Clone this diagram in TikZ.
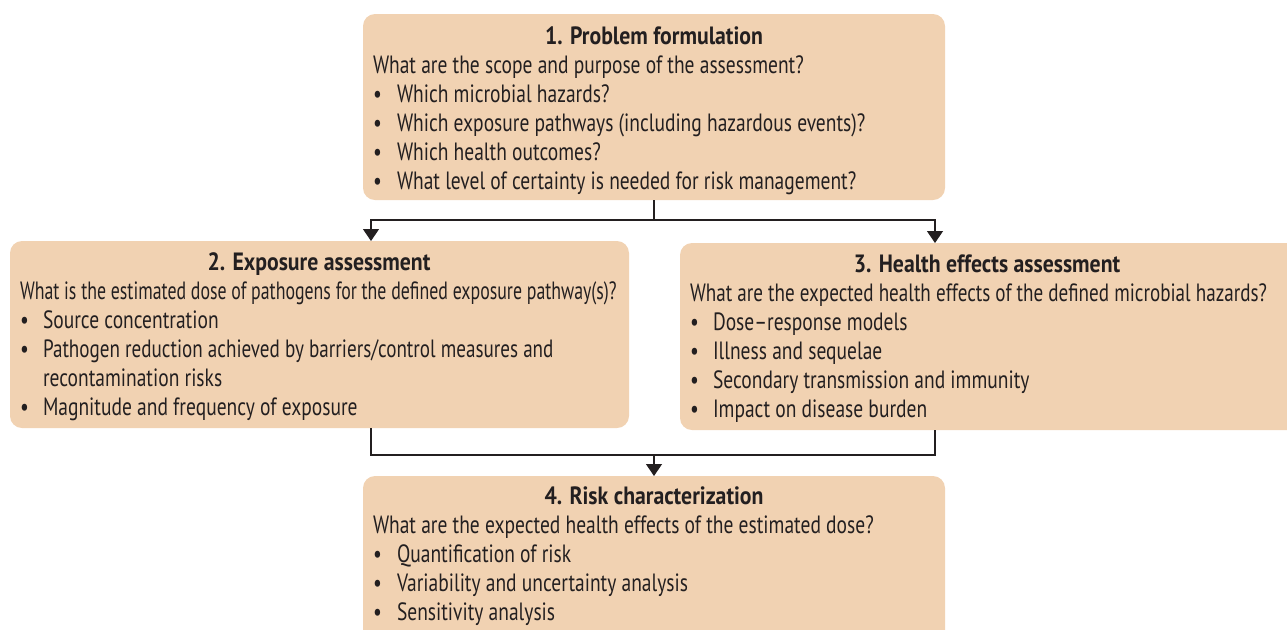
\documentclass[tikz,border=0pt]{standalone}
\usepackage{fontspec}
\setmainfont{PT Sans}[FakeStretch=0.78,BoldFeatures={FakeStretch=0.87}]
\usepackage{xcolor}
\usetikzlibrary{positioning}
\usetikzlibrary{calc,arrows.meta}
\definecolor{boxfill}{RGB}{241,210,178}
\definecolor{inkgray}{RGB}{35,31,32}

\begin{document}
\begin{tikzpicture}[x=0.5pt,y=-0.5pt,every node/.style={outer sep=0pt,inner sep=0pt,text=inkgray,font=\fontsize{12.5}{14.5}\selectfont},
		box/.style={fill=boxfill,draw=none,rounded corners=6pt,anchor=north west},
		title/.style={anchor=base,font=\fontsize{12.5}{14.5}\selectfont\bfseries},
		line/.style={anchor=base west},
		link/.style={draw=inkgray,line width=0.65pt},
		flow/.style={link,-{Triangle[width=8pt,length=6pt]}}
		]
		\useasboundingbox (0,0) rectangle (1287,629);
		
		% the four boxes
		\node[box,minimum width=291pt,minimum height=93pt] (prob) at (363,14) {};
		\node[box,minimum width=309.5pt,minimum height=93.5pt] (expo) at (10,241) {};
		\node[box,minimum width=310pt,minimum height=93.5pt] (heal) at (680,243) {};
		\node[box,minimum width=291pt,minimum height=92pt] (risk) at (363,476) {};
		
		% 1. problem formulation
		\path (654,44) node[title] (probt) {1. Problem formulation};
		\path (373,73) node[line] {What are the scope and purpose of the assessment?};
		\foreach \txt [count=\i] in {Which microbial hazards?,Which exposure pathways (including hazardous events)?,Which health outcomes?,What level of certainty is needed for risk management?}
		\path (373,73+29*\i) node[line] {\textbullet} ++(24,0) node[line] {\txt};
		
		% 2. exposure assessment
		\path (319,270) node[title] (expot) {2. Exposure assessment};
		\path (20,299) node[line,xscale=0.915] {What is the estimated dose of pathogens for the defined exposure pathway(s)?};
		\path (20,328) node[line] {\textbullet} ++(23,0) node[line] {Source concentration};
		\path (20,357) node[line] {\textbullet} ++(23,0) node[line,xscale=0.98] {Pathogen reduction achieved by barriers/control measures and};
		\path (43,386) node[line] {recontamination risks};
		\path (20,415) node[line] {\textbullet} ++(23,0) node[line] {Magnitude and frequency of exposure};
		
		% 3. health effects assessment
		\path (987,272) node[title] (healt) {3. Health effects assessment};
		\path (690,301) node[line,xscale=0.98] {What are the expected health effects of the defined microbial hazards?};
		\foreach \txt [count=\i] in {Dose--response models,Illness and sequelae,Secondary transmission and immunity,Impact on disease burden}
		\path (690,301+29*\i) node[line] {\textbullet} ++(23,0) node[line] {\txt};
		
		% 4. risk characterization
		\path (654,504) node[title] (riskt) {4. Risk characterization};
		\path (373,533) node[line] {What are the expected health effects of the estimated dose?};
		\foreach \txt [count=\i] in {Quantification of risk,Variability and uncertainty analysis,Sensitivity analysis}
		\path (373,533+29*\i) node[line] {\textbullet} ++(24,0) node[line] {\txt};
		
		% connectors
		\coordinate (split) at (654,220);
		\coordinate (join) at (654,455);
		\coordinate (expoin) at (371,241);
		\coordinate (healin) at (935,243);
		\coordinate (expoout) at (371,428);
		\coordinate (healout) at (935,430);
		\draw[link] (prob.south) -- (split);
		\draw[flow] (split) -| (expoin);
		\draw[flow] (split) -| (healin);
		\draw[link] (expoout) |- (join) -| (healout);
		\draw[flow] (join) -- (risk.north);
	\end{tikzpicture}
\end{document}
